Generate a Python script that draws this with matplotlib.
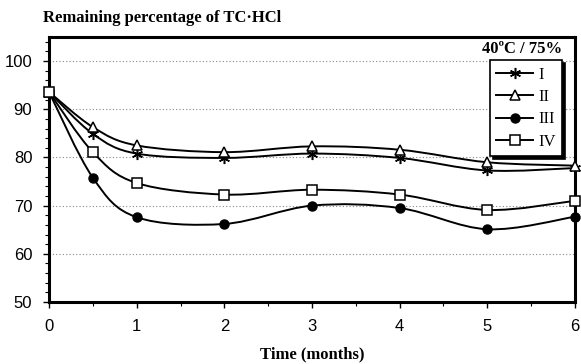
import numpy as np
import matplotlib.pyplot as plt
from matplotlib.path import Path
from matplotlib.patches import PathPatch
from matplotlib.lines import Line2D

plt.rcParams['font.family'] = 'Liberation Sans'

months = [0, 0.5, 1, 2, 3, 4, 5, 6]
series_I = [93.6, 84.9, 80.8, 79.9, 80.8, 79.9, 77.3, 77.8]
series_II = [93.6, 86.3, 82.5, 81.1, 82.3, 81.6, 79.0, 78.3]
series_III = [93.6, 75.8, 67.6, 66.2, 70.0, 69.5, 65.1, 67.7]
series_IV = [93.6, 81.1, 74.7, 72.3, 73.3, 72.3, 69.1, 71.0]
labels = ['I', 'II', 'III', 'IV']


def smooth_path(x, y):
    # Excel-like smoothed line: cubic Bezier segments through the points
    p = np.column_stack([x, y]).astype(float)
    ext = np.vstack([p[0], p, p[-1]])
    verts = [p[0]]
    codes = [Path.MOVETO]
    for i in range(len(p) - 1):
        p0, p1, p2, p3 = ext[i], ext[i + 1], ext[i + 2], ext[i + 3]
        c1 = p1 + (p2 - p0) / 6
        c2 = p2 - (p3 - p1) / 6
        verts += [c1, c2, p2]
        codes += [Path.CURVE4] * 3
    return Path(verts, codes)


fig = plt.figure(figsize=(5.81, 3.64), dpi=100)
ax = fig.add_axes([49 / 581, 62 / 364, 526 / 581, 265 / 364])

styles = [
    dict(marker=(6, 2, 0), markersize=8, markerfacecolor='black', markeredgewidth=1.1),
    dict(marker='^', markersize=6.5, markerfacecolor='white', markeredgewidth=1.1),
    dict(marker='o', markersize=6.5, markerfacecolor='black', markeredgewidth=1.0),
    dict(marker='s', markersize=6.5, markerfacecolor='white', markeredgewidth=1.1),
]

all_series = [series_I, series_II, series_III, series_IV]
handles = []
for vals, st, lab in zip(all_series, styles, labels):
    ax.add_patch(PathPatch(smooth_path(months, vals), facecolor='none',
                           edgecolor='black', lw=1.4, zorder=3))
    ax.plot(months, vals, linestyle='none', color='black', markeredgecolor='black',
            zorder=4, clip_on=False, **st)
    handles.append(Line2D([], [], color='black', lw=1.4, markeredgecolor='black', **st))

ax.set_xlim(0, 6)
ax.set_ylim(50, 105)
ax.set_xticks(range(7))
ax.set_xticks(np.arange(0.5, 6, 1), minor=True)
ax.set_yticks(range(50, 101, 10))
ax.set_yticks(range(50, 105, 2), minor=True)
ax.tick_params(labelsize=12, length=4, width=1, direction='out', pad=8)
ax.tick_params(which='minor', length=3, width=0.8)
ax.yaxis.grid(True, linestyle=(0, (1, 2)), color='#888888', lw=0.8)
for s in ax.spines.values():
    s.set_linewidth(2.2)

fig.text(43 / 581, 1 - 18 / 364, 'Remaining percentage of TC·HCl', family='Liberation Serif',
         fontweight='bold', fontsize=12, va='center', ha='left')
ax.set_xlabel('Time (months)', family='Liberation Serif', fontweight='bold', fontsize=12,
              labelpad=9)
ax.text(0.975, 0.955, '40ºC / 75%', transform=ax.transAxes, family='Liberation Serif',
        fontweight='bold', fontsize=12, ha='right', va='center')

leg = ax.legend(handles, labels, loc='upper left', bbox_to_anchor=(0.838, 0.913),
                borderaxespad=0, frameon=True, fancybox=False, handlelength=2.2,
                handletextpad=0.3, labelspacing=0.38, borderpad=0.4,
                prop={'family': 'Liberation Serif', 'size': 12},
                shadow={'color': 'black', 'alpha': 1})
leg.get_frame().set_edgecolor('black')
leg.get_frame().set_linewidth(1.2)

plt.savefig('out.png', dpi=100)
